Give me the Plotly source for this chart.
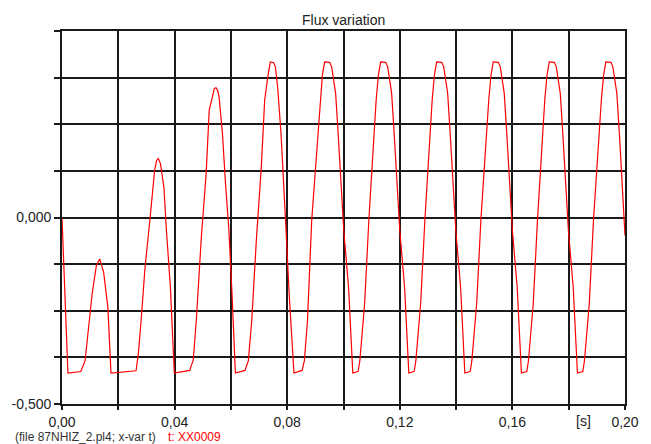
import plotly.graph_objects as go

# Time (s) and flux values
t = [
    0.0000, 0.0021, 0.0067, 0.0082, 0.0107, 0.0122, 0.0134, 0.0148, 0.0163, 0.0174,
    0.0263, 0.0271, 0.0281, 0.0295, 0.0312, 0.0329, 0.0336, 0.0342, 0.0350, 0.0362,
    0.0371, 0.0385, 0.0399, 0.0454, 0.0460, 0.0466, 0.0477, 0.0495, 0.0512, 0.0523,
    0.0533, 0.0541, 0.0547, 0.0553, 0.0558, 0.0570, 0.0581, 0.0593, 0.0604, 0.0616,
    0.0650, 0.0662, 0.0674, 0.0691, 0.0708, 0.0720, 0.0731, 0.0740, 0.0752, 0.0758,
    0.0766, 0.0778, 0.0796, 0.0807, 0.0824, 0.0853, 0.0861, 0.0872, 0.0887,
    0.0917, 0.0925, 0.0933, 0.0951, 0.0958, 0.0972, 0.0981, 0.1001, 0.1018, 0.1033,
    0.1052, 0.1058, 0.1075, 0.1090,
    0.1116, 0.1124, 0.1132, 0.1150, 0.1157, 0.1171, 0.1180, 0.1200, 0.1217, 0.1232,
    0.1251, 0.1257, 0.1274, 0.1289,
    0.1315, 0.1323, 0.1331, 0.1349, 0.1356, 0.1370, 0.1379, 0.1399, 0.1416, 0.1431,
    0.1450, 0.1456, 0.1473, 0.1488,
    0.1516, 0.1524, 0.1532, 0.1550, 0.1557, 0.1571, 0.1580, 0.1600, 0.1617, 0.1632,
    0.1651, 0.1657, 0.1674, 0.1689,
    0.1715, 0.1723, 0.1731, 0.1749, 0.1756, 0.1770, 0.1779, 0.1799, 0.1816, 0.1831,
    0.1850, 0.1856, 0.1873, 0.1888,
    0.1916, 0.1924, 0.1932, 0.1950, 0.1957, 0.1971, 0.1980, 0.2000,
]
flux = [
    0.000, -0.417, -0.413, -0.384, -0.205, -0.129, -0.111, -0.147, -0.241, -0.417,
    -0.411, -0.367, -0.277, -0.134, -0.008, 0.126, 0.153, 0.158, 0.144, 0.081,
    -0.035, -0.187, -0.417, -0.410, -0.395, -0.384, -0.277, -0.053, 0.117, 0.288,
    0.319, 0.346, 0.348, 0.341, 0.323, 0.225, 0.090, -0.035, -0.205, -0.417,
    -0.410, -0.384, -0.277, -0.053, 0.135, 0.315, 0.377, 0.417, 0.415, 0.404,
    0.350, 0.225, -0.035, -0.205, -0.417, -0.410, -0.384, -0.277, -0.008,
    0.315, 0.382, 0.417, 0.416, 0.404, 0.333, 0.225, -0.035, -0.187, -0.417,
    -0.413, -0.384, -0.232, -0.008,
    0.315, 0.382, 0.417, 0.416, 0.404, 0.333, 0.225, -0.035, -0.187, -0.417,
    -0.413, -0.384, -0.232, -0.008,
    0.315, 0.382, 0.417, 0.416, 0.404, 0.333, 0.225, -0.035, -0.187, -0.417,
    -0.413, -0.384, -0.232, -0.008,
    0.315, 0.382, 0.417, 0.416, 0.404, 0.333, 0.225, -0.035, -0.187, -0.417,
    -0.413, -0.384, -0.232, -0.008,
    0.315, 0.382, 0.417, 0.416, 0.404, 0.333, 0.225, -0.035, -0.187, -0.417,
    -0.413, -0.384, -0.232, -0.008,
    0.315, 0.382, 0.417, 0.416, 0.404, 0.333, 0.225, -0.048,
]

x_tickvals = [0.00, 0.02, 0.04, 0.06, 0.08, 0.10, 0.12, 0.14, 0.16, 0.18, 0.20]
x_ticktext = ["0,00", "", "0,04", "", "0,08", "", "0,12", "", "0,16", "", "0,20"]
y_tickvals = [-0.5, -0.375, -0.25, -0.125, 0.0, 0.125, 0.25, 0.375, 0.5]
y_ticktext = ["-0,500", "", "", "", "0,000", "", "", "", ""]

title_text = "Flux variation"
x_unit = "[s]"
footer_text = "(file 87NHIZ_2.pl4; x-var t)"
footer_var = "t: XX0009"

fig = go.Figure()
fig.add_trace(go.Scatter(x=t, y=flux, mode="lines",
                         line=dict(color="#ff0000", width=1.2),
                         showlegend=False, hoverinfo="skip"))

axis_col = "#1a1a1a"
fig.update_layout(
    width=651, height=444,
    margin=dict(l=58, r=14, t=31, b=40),
    paper_bgcolor="white", plot_bgcolor="white",
    font=dict(family="Liberation Sans, Arial, sans-serif", size=14, color="#222222"),
    xaxis=dict(range=[0, 0.2], tickvals=x_tickvals, ticktext=x_ticktext,
               showgrid=True, gridcolor=axis_col, gridwidth=1.6,
               showline=True, linecolor=axis_col, linewidth=1.8, mirror=True,
               ticks="outside", ticklen=4, tickcolor=axis_col, tickwidth=1.5,
               zeroline=False, fixedrange=True),
    yaxis=dict(range=[-0.5, 0.5], tickvals=y_tickvals, ticktext=y_ticktext,
               showgrid=True, gridcolor=axis_col, gridwidth=1.6,
               showline=True, linecolor=axis_col, linewidth=1.8, mirror=True,
               ticks="outside", ticklen=6, tickcolor=axis_col, tickwidth=1.5,
               zeroline=False, fixedrange=True),
)

plot_w = 651 - 58 - 14
plot_h = 444 - 31 - 40
fig.add_annotation(text=title_text, x=0.5, y=1 + (31 - 20) / plot_h,
                   xref="paper", yref="paper", showarrow=False,
                   font=dict(size=14, color="#222222"), xanchor="center", yanchor="middle")
fig.add_annotation(text=x_unit, x=0.1854, y=-0.5, xref="x", yref="y", showarrow=False,
                   font=dict(size=14, color="#222222"), xanchor="center", yanchor="top",
                   yshift=-7)
fig.add_annotation(text=footer_text, x=(8 - 58) / plot_w, y=-(437 - 404) / plot_h,
                   xref="paper", yref="paper", showarrow=False, xanchor="left",
                   yanchor="middle", font=dict(size=12, color="#333333"))
fig.add_annotation(text=footer_var, x=(165 - 58) / plot_w, y=-(437 - 404) / plot_h,
                   xref="paper", yref="paper", showarrow=False, xanchor="left",
                   yanchor="middle", font=dict(size=12, color="#ff0000"))

fig.write_html("out.html")
